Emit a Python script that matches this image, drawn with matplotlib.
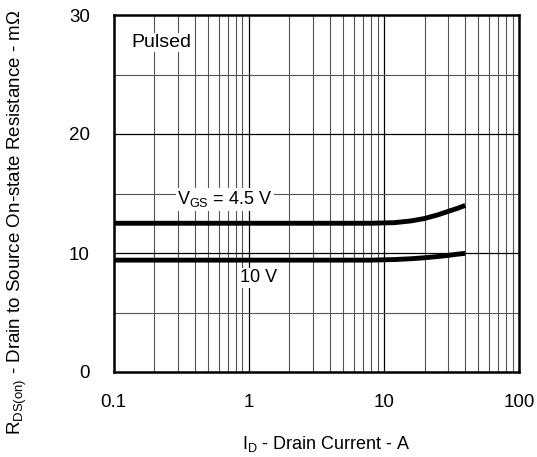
import numpy as np
from matplotlib import pyplot as plt
from matplotlib.ticker import FixedLocator, NullFormatter

plt.rcParams['font.family'] = ['Liberation Sans', 'DejaVu Sans']
plt.rcParams['mathtext.fontset'] = 'custom'
plt.rcParams['mathtext.rm'] = 'Liberation Sans'

# data
id_a = [0.1, 0.3, 1, 3, 8, 12, 16, 20, 25, 30, 35, 40]
rds_45v = [12.5, 12.5, 12.5, 12.5, 12.5, 12.55, 12.7, 12.9, 13.2, 13.5, 13.75, 14.0]
rds_10v = [9.4, 9.4, 9.4, 9.4, 9.4, 9.45, 9.52, 9.6, 9.7, 9.8, 9.9, 9.97]
xticks = [0.1, 1, 10, 100]
xticklabels = ['0.1', '1', '10', '100']
yticks = [0, 10, 20, 30]

W, H = 537, 457
fig = plt.figure(figsize=(W/100, H/100), dpi=100)
ax = fig.add_axes([113.5/W, 1-372/H, (519-113.5)/W, (372-15)/H])

ax.set_xscale('log')
ax.set_xlim(0.1, 100)
ax.set_ylim(0, 30)

# grid
minors = [m*d for d in [0.1, 1, 10] for m in range(2, 10)]
for x in minors:
    ax.axvline(x, color='#555555', lw=0.8, zorder=1)
for x in [1, 10]:
    ax.axvline(x, color='black', lw=0.9, zorder=1)
for y in [5, 15, 25]:
    ax.axhline(y, color='#555555', lw=0.8, zorder=1)
for y in [10, 20]:
    ax.axhline(y, color='black', lw=0.9, zorder=1)

ax.plot(id_a, rds_45v, color='black', lw=3.5, solid_capstyle='butt', zorder=3)
ax.plot(id_a, rds_10v, color='black', lw=3.5, solid_capstyle='butt', zorder=3)

ax.xaxis.set_major_locator(FixedLocator(xticks))
ax.set_xticklabels(xticklabels)
ax.xaxis.set_minor_formatter(NullFormatter())
ax.set_yticks(yticks)
ax.tick_params(axis='both', which='both', length=0, labelsize=13.5)
ax.tick_params(axis='x', pad=16)
ax.tick_params(axis='y', pad=17)

for s in ax.spines.values():
    s.set_linewidth(1.8)

box = dict(facecolor='white', edgecolor='none', pad=1)
ax.text(0.135, 27.7, 'Pulsed', fontsize=14, va='center', ha='left', bbox=box, zorder=4)
ax.text(0.295, 14.5, r'V$_{\mathregular{GS}}$ = 4.5 V', fontsize=13, va='center', ha='left',
        bbox=box, zorder=4)
ax.text(0.87, 7.9, '10 V', fontsize=13, va='center', ha='left', bbox=box, zorder=4)

fig.text(326/W, 1-444/H, r'I$_{\mathregular{D}}$ - Drain Current - A', fontsize=13,
         ha='center', va='center')
fig.text(17/W, 1-222/H,
         r'R$_{\mathregular{DS(on)}}$ - Drain to Source On-state Resistance - m$\Omega$',
         fontsize=13.5, ha='center', va='center', rotation=90)

fig.savefig('out.png', dpi=100)
